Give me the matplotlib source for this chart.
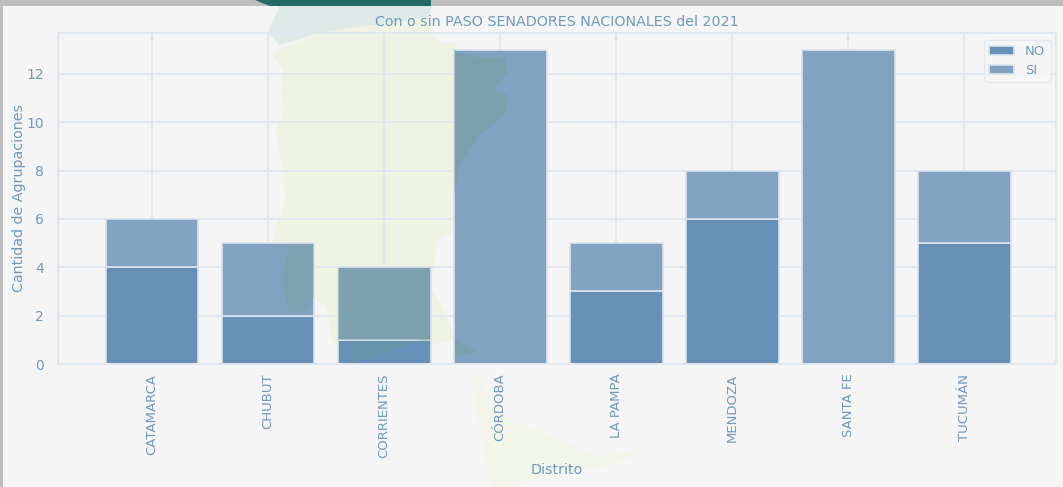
import matplotlib
matplotlib.use("Agg")
import matplotlib.pyplot as plt
from matplotlib.patches import Polygon, Rectangle
from matplotlib.transforms import Affine2D

distritos = ["CATAMARCA", "CHUBUT", "CORRIENTES", "CÓRDOBA", "LA PAMPA", "MENDOZA", "SANTA FE", "TUCUMÁN"]
no_paso = [4, 2, 1, 0, 3, 6, 0, 5]
si_paso = [2, 3, 3, 13, 2, 2, 13, 3]
y_ticks = [0, 2, 4, 6, 8, 10, 12]

W, H = 1063, 487
TXT = "#6f98bd"
LINE = "#e0e7ef"
EDGE = "#dbe4ed"

fig = plt.figure(figsize=(W / 100, H / 100), dpi=100, facecolor="#bdbdbd")
px = Affine2D().scale(1 / W, -1 / H).translate(0, 1) + fig.transFigure


def shape(pts, color, z, alpha=1.0):
    fig.add_artist(Polygon(pts, closed=True, transform=px, facecolor=color, edgecolor="none", alpha=alpha, zorder=z))


fig.add_artist(Rectangle((3, 6), W - 3, H - 6, transform=px, facecolor="#f5f5f5", edgecolor="none", zorder=-10))

# background map watermark
PALE = "#eff3e3"
shape([(255, 0), (262, 3), (270, 6), (431, 6), (431, 0)], "#246b66", -9)
shape([(279, 6), (431, 6), (431, 17), (324, 32), (279, 45), (269, 33), (269, 27), (279, 10)], "#dfeae8", -9)
shape([(271, 53), (324, 32), (431, 17), (431, 37), (445, 43), (456, 43), (456, 233), (452, 233), (437, 240),
       (431, 287), (442, 307), (456, 340), (430, 345), (395, 352), (352, 364), (332, 340), (326, 307), (312, 297),
       (308, 310), (290, 307), (277, 273), (272, 247), (276, 227), (286, 200), (284, 183), (283, 167), (276, 133),
       (284, 110), (281, 93), (283, 70)], PALE, -9)
shape([(469, 370), (513, 422), (603, 457), (645, 448), (625, 460), (603, 467), (500, 487), (491, 487)], "#f2f6ea", -9)

ax = fig.add_axes([58 / W, 1 - 364 / H, (1056 - 58) / W, (364 - 33) / H], facecolor="none")
ax.set_axisbelow(True)
ax.grid(True, color=LINE, linewidth=1.4)
ax.bar(distritos, no_paso, width=0.8, color="#6690b7", edgecolor=EDGE, linewidth=1.2, label="NO")
ax.bar(distritos, si_paso, width=0.8, bottom=no_paso, color="#82a2c1", edgecolor=EDGE, linewidth=1.2, label="SI")
ax.set_xlim(-0.81, 7.79)
ax.set_ylim(0, 13.69)
ax.set_yticks(y_ticks)
ax.tick_params(axis="both", length=0, colors=TXT, labelsize=10)
ax.tick_params(axis="x", rotation=90, pad=7, labelsize=9.5)
ax.tick_params(axis="y", pad=10)
for label in ax.get_xticklabels():
    label.set_x(label.get_position()[0])
for s in ax.spines.values():
    s.set_color(LINE)
    s.set_linewidth(1.4)
ax.set_title("Con o sin PASO SENADORES NACIONALES del 2021", color=TXT, fontsize=10.3, pad=5)
ax.set_xlabel("Distrito", color=TXT, fontsize=10.3)
ax.xaxis.set_label_coords(0.5, -0.30)
ax.set_ylabel("Cantidad de Agrupaciones", color=TXT, fontsize=10.3)
ax.yaxis.set_label_coords(-0.0325, 0.5)
leg = ax.legend(loc="upper right", bbox_to_anchor=(0.9945, 0.98), borderaxespad=0, facecolor="#f5f5f5",
                edgecolor=LINE, labelcolor=TXT, fontsize=9.5, framealpha=0.8, handlelength=1.9, labelspacing=0.45)

# map seen through the bars
TINT = "#6fa08a"
shape([(454, 50), (475, 57), (505, 57), (508, 72), (493, 90), (508, 95), (505, 115), (480, 135), (460, 165),
       (454, 195)], TINT, 5, 0.32)
shape([(455, 340), (478, 352), (455, 356)], TINT, 5, 0.32)
shape([(338, 268), (430, 268), (430, 340), (338, 340)], TINT, 5, 0.32)
shape([(350, 342), (430, 342), (430, 335), (395, 350), (352, 363)], TINT, 5, 0.25)
shape([(290, 244), (314, 244), (314, 296), (308, 310), (290, 313), (280, 280)], TINT, 5, 0.3)

fig.savefig("out.png", dpi=100, facecolor=fig.get_facecolor())
